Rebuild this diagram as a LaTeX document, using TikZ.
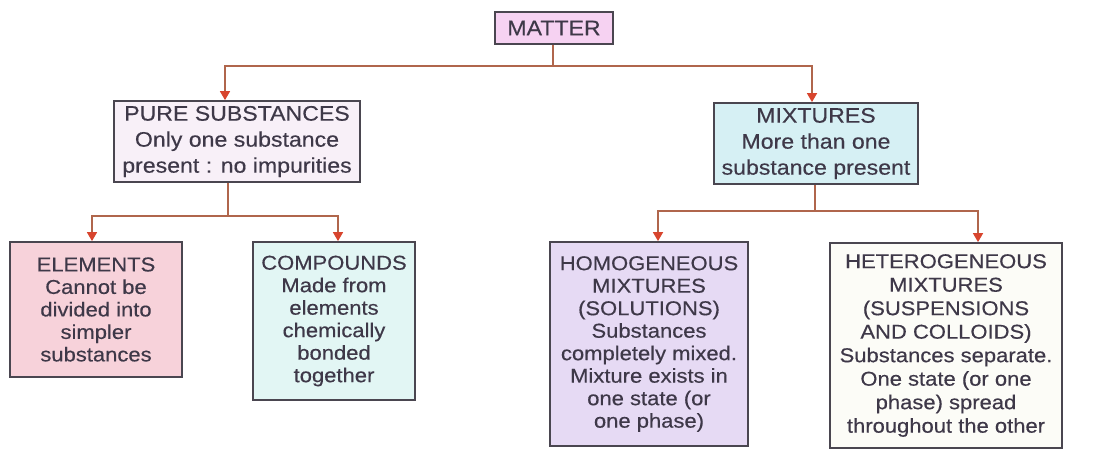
\documentclass[tikz,border=0pt]{standalone}
\usepackage{fontspec}
\setmainfont[FakeStretch=1.1,FakeBold=0.35]{Liberation Sans}
\usetikzlibrary{arrows.meta}
\definecolor{boxline}{HTML}{4A4650}
\definecolor{txt}{HTML}{3E3848}
\definecolor{linkc}{HTML}{B0664C}
\definecolor{tipc}{HTML}{D8452E}
\definecolor{fmatter}{HTML}{F6D2F2}
\definecolor{fpure}{HTML}{F8F0F8}
\definecolor{fmix}{HTML}{D6F0F4}
\definecolor{felem}{HTML}{F7D2DA}
\definecolor{fcomp}{HTML}{E2F6F4}
\definecolor{fhomo}{HTML}{E6DAF4}
\definecolor{fhetero}{HTML}{FCFCF7}
\tikzset{
  box/.style={draw=boxline, line width=1.8pt, text=txt, align=center, inner sep=0pt,
    font=\fontsize{20}{22.5}\selectfont},
  topbox/.style={box, font=\fontsize{21}{26}\selectfont},
  link/.style={draw=linkc, line width=1.6pt},
  arr/.style={link, -{Triangle[width=10pt,length=9pt,color=tipc]}}
}
\begin{document}
\begin{tikzpicture}[x=1pt,y=-1pt]
\useasboundingbox[fill=white] (0,0) rectangle (1094,450);
\node[topbox, fill=fmatter, minimum width=118, minimum height=32] (matter) at (554,28) {MATTER};
\node[topbox, fill=fpure, minimum width=246, minimum height=81] (pure) at (237,141.5)
  {PURE SUBSTANCES\\Only one substance\\present : no impurities};
\node[topbox, fill=fmix, minimum width=204, minimum height=81] (mix) at (816,143.5)
  {MIXTURES\\More than one\\substance present};
\node[box, fill=felem, minimum width=172, minimum height=135] (elem) at (96,309.5)
  {ELEMENTS\\Cannot be\\divided into\\simpler\\substances};
\node[box, fill=fcomp, minimum width=162, minimum height=158] (comp) at (334,321)
  {COMPOUNDS\\Made from\\elements\\chemically\\bonded\\together};
\node[box, fill=fhomo, minimum width=198, minimum height=204] (homo) at (649,344)
  {HOMOGENEOUS\\MIXTURES\\(SOLUTIONS)\\Substances\\completely mixed.\\Mixture exists in\\one state (or\\one phase)};
\node[box, fill=fhetero, minimum width=232, minimum height=205, font=\fontsize{20}{23.5}\selectfont] (hetero) at (946,345.5)
  {HETEROGENEOUS\\MIXTURES\\(SUSPENSIONS\\AND COLLOIDS)\\Substances separate.\\One state (or one\\phase) spread\\throughout the other};
% connectors
\draw[link] ([xshift=-1pt]matter.south) -- ++(0,21) coordinate (mj);
\draw[arr] (mj) -| ([xshift=-12pt]pure.north);
\draw[arr] (mj) -| ([xshift=-4pt]mix.north);
\draw[link] ([xshift=-9pt]pure.south) -- ++(0,33) coordinate (pj);
\draw[arr] (pj) -| ([xshift=-4pt]elem.north);
\draw[arr] (pj) -| ([xshift=4pt]comp.north);
\draw[link] ([xshift=-1pt]mix.south) -- ++(0,26) coordinate (xj);
\draw[arr] (xj) -| ([xshift=9pt]homo.north);
\draw[arr] (xj) -| ([xshift=32pt]hetero.north);
\end{tikzpicture}
\end{document}
